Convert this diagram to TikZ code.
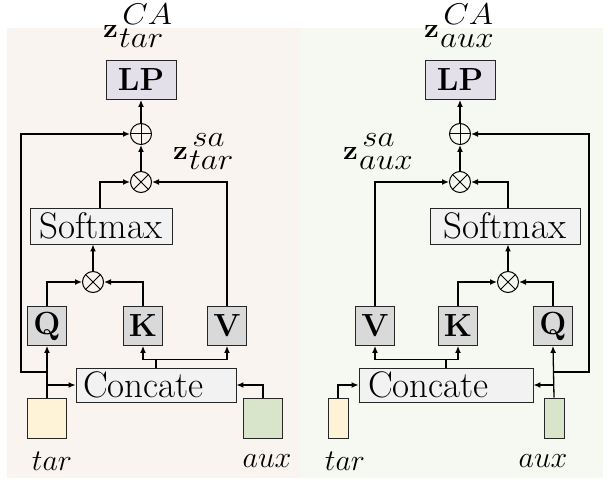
\RequirePackage{fix-cm}
\documentclass[tikz,border=0pt]{standalone}
\usepackage{graphicx}
\usetikzlibrary{arrows.meta}
\definecolor{bgL}{HTML}{FAF4F1}
\definecolor{bgR}{HTML}{F6F9F1}
\definecolor{lpfill}{HTML}{E3E0EA}
\definecolor{qkvfill}{HTML}{D9D9D9}
\definecolor{widefill}{HTML}{F2F2F2}
\definecolor{tarfill}{HTML}{FEF3D6}
\definecolor{auxfill}{HTML}{D9E5CA}
\newcommand{\zlab}[2]{\scalebox{1.1}[1]{\fontsize{27}{29}\selectfont\textbf{z}\kern1pt\fontsize{30}{32}\selectfont\rlap{\kern3pt\raisebox{13pt}{$#1$}}\raisebox{-10pt}{$#2$}}}
\begin{document}
\begin{tikzpicture}[x=1pt,y=-1pt,
  box/.style={draw=black!85, line width=0.9pt, inner sep=0pt},
  qkv/.style={box, fill=qkvfill, minimum width=39pt, minimum height=39pt, font=\fontsize{32}{34}\selectfont\bfseries},
  wide/.style={box, fill=widefill, minimum height=36pt, font=\fontsize{37}{40}\selectfont},
  lp/.style={box, fill=lpfill, minimum width=70pt, minimum height=39pt, font=\fontsize{32}{34}\selectfont\bfseries},
  inp/.style={box, minimum height=40pt},
  oplus/.style={circle, draw, line width=1pt, minimum size=21pt, inner sep=0pt,
    path picture={\draw[line width=1pt] (path picture bounding box.north) -- (path picture bounding box.south)
      (path picture bounding box.west) -- (path picture bounding box.east);}},
  otimes/.style={circle, draw, line width=1pt, minimum size=21pt, inner sep=0pt,
    path picture={\draw[line width=1pt] (path picture bounding box.north west) -- (path picture bounding box.south east)
      (path picture bounding box.south west) -- (path picture bounding box.north east);}},
  arr/.style={-{Latex[length=7pt,width=6pt]}, line width=1.3pt},
  ln/.style={line width=1.3pt},
  lbl/.style={font=\fontsize{30}{32}\selectfont, inner sep=0pt},
  zl/.style={inner sep=0pt, anchor=base west}
]
\useasboundingbox (0,0) rectangle (613,486);
\fill[white] (0,0) rectangle (613,486);
\fill[bgL] (7,28) rectangle (300,478);
\fill[bgR] (300,28) rectangle (603,478);

% ---------------- left ----------------
\node[lp] (LP1) at (141,80) {LP};
\node[oplus] (p1) at (141,134) {};
\node[otimes] (mb1) at (141,182) {};
\node[wide, minimum width=142pt] (SM1) at (101,226) {Softmax};
\node[otimes] (ma1) at (93,282) {};
\node[qkv] (Q1) at (47,326) {Q};
\node[qkv] (K1) at (143,326) {K};
\node[qkv] (V1) at (227,326) {V};
\node[wide, minimum width=160pt, text width=146pt, align=left, inner xsep=7pt, minimum height=34pt] (C1) at (156,385) {Concate};
\node[inp, fill=tarfill, minimum width=39pt] (tar1) at (47,418) {};
\node[inp, fill=auxfill, minimum width=39pt] (aux1) at (263,418) {};
\node[lbl] (tl1) at (52,461) {$tar$};
\node[lbl] (al1) at (267,461) {$aux$};
\node[zl] (zca1) at (103,38) {\zlab{CA}{tar}};
\node[zl] (zsa1) at (173,160) {\zlab{sa}{tar}};
\coordinate (r1) at (21,372);

\draw[arr] (p1.north) -- (LP1.south);
\draw[arr] (mb1.north) -- (p1.south);
\draw[arr] (SM1.north -| 100,0) |- (mb1.west);
\draw[arr] (V1.north) |- (mb1.east);
\draw[arr] (ma1.north) -- (ma1.north |- SM1.south);
\draw[arr] (Q1.north) |- (ma1.west);
\draw[arr] (K1.north) |- (ma1.east);
\draw[arr] (tar1.north) -- (Q1.south);
\draw[arr] (tar1.north |- C1.west) -- (C1.west);
\draw[arr] (tar1.north |- r1) -- (r1) |- (p1.west);
\draw[arr] (aux1.north) |- (C1.east);
\draw[ln] (C1.north) -- ++(0,-8) coordinate (s1);
\draw[arr] (s1) -| (K1.south);
\draw[arr] (s1) -| (V1.south);

% ---------------- right ----------------
\node[lp] (LP2) at (460,80) {LP};
\node[oplus] (p2) at (460,134) {};
\node[otimes] (mb2) at (460,182) {};
\node[wide, minimum width=150pt] (SM2) at (505,226) {Softmax};
\node[otimes] (ma2) at (508,282) {};
\node[qkv] (V2) at (375,326) {V};
\node[qkv] (K2) at (458,326) {K};
\node[qkv] (Q2) at (553,326) {Q};
\node[wide, minimum width=174pt, text width=156pt, align=left, inner xsep=9pt, minimum height=34pt] (C2) at (446,385) {Concate};
\node[inp, fill=tarfill, minimum width=20pt] (tar2) at (338,418) {};
\node[inp, fill=auxfill, minimum width=20pt] (aux2) at (554,418) {};
\node[lbl] (tl2) at (345,461) {$tar$};
\node[lbl] (al2) at (543,461) {$aux$};
\node[zl] (zca2) at (424,38) {\zlab{CA}{aux}};
\node[zl] (zsa2) at (343,160) {\zlab{sa}{aux}};
\coordinate (r2) at (589,372);

\draw[arr] (p2.north) -- (LP2.south);
\draw[arr] (mb2.north) -- (p2.south);
\draw[arr] (ma2 |- SM2.north) |- (mb2.east);
\draw[arr] (V2.north) |- (mb2.west);
\draw[arr] (ma2.north) -- (ma2.north |- SM2.south);
\draw[arr] (K2.north) |- (ma2.west);
\draw[arr] (Q2.north) |- (ma2.east);
\draw[arr] (aux2.north) -- (Q2.south);
\draw[arr] (aux2.north |- C2.east) -- (C2.east);
\draw[arr] (aux2.north |- r2) -- (r2) |- (p2.east);
\draw[arr] (tar2.north) |- (C2.west);
\draw[ln] (C2.north) -- ++(0,-8) coordinate (s2);
\draw[arr] (s2) -| (V2.south);
\draw[arr] (s2) -| (K2.south);
\end{tikzpicture}
\end{document}
